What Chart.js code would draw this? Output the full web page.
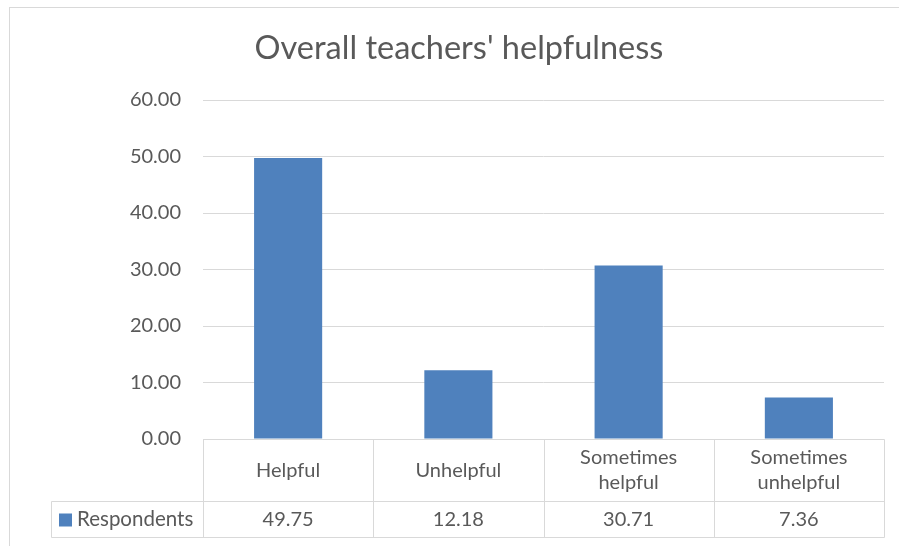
<!DOCTYPE html>
<html><head><meta charset="utf-8">
<script src="https://cdn.jsdelivr.net/npm/chart.js@4.4.0/dist/chart.umd.min.js"></script>
<style>html,body{margin:0;padding:0;background:#fff;overflow:hidden}#wrap{width:899px;height:546px}</style>
</head><body><div id="wrap"><canvas id="c" width="899" height="546"></canvas></div>
<script>
const chartTitle = "Overall teachers' helpfulness";
const categories = ["Helpful", "Unhelpful", "Sometimes helpful", "Sometimes unhelpful"];
const categoryLines = [["Helpful"], ["Unhelpful"], ["Sometimes", "helpful"], ["Sometimes", "unhelpful"]];
const seriesName = "Respondents";
const values = [49.75, 12.18, 30.71, 7.36];
const valueLabels = ["49.75", "12.18", "30.71", "7.36"];
const yMin = 0, yMax = 60, yStep = 10;

const FONT = "Lato, 'Open Sans', sans-serif";
const TXT = "#595959";
const LINE = "#d9d9d9";
const BAR = "#4f81bd";

const decor = {
  id: 'decor',
  beforeDraw(chart) {
    const ctx = chart.ctx;
    ctx.save();
    ctx.fillStyle = '#fff';
    ctx.fillRect(0, 0, chart.width, chart.height);
    ctx.strokeStyle = LINE;
    ctx.lineWidth = 1;
    ctx.strokeRect(9.5, 7.5, 1000, 1000);
    ctx.fillStyle = TXT;
    ctx.font = "32.5px " + FONT;
    ctx.textAlign = 'center';
    ctx.textBaseline = 'middle';
    ctx.fillText(chartTitle, 459, 49);
    ctx.restore();
  },
  afterDraw(chart) {
    const ctx = chart.ctx, ca = chart.chartArea, xs = chart.scales.x;
    const n = categories.length;
    const cw = (ca.right - ca.left) / n;
    const top = Math.round(ca.bottom) + 0.5;
    const mid = top + 62, bot = mid + 36;
    const legLeft = 51.5;
    ctx.save();
    ctx.strokeStyle = LINE;
    ctx.lineWidth = 1;
    ctx.beginPath();
    ctx.moveTo(Math.round(ca.left) + 0.5, top); ctx.lineTo(Math.round(ca.right) + 0.5, top);
    ctx.moveTo(legLeft, mid); ctx.lineTo(Math.round(ca.right) + 0.5, mid);
    ctx.moveTo(legLeft, bot); ctx.lineTo(Math.round(ca.right) + 0.5, bot);
    ctx.moveTo(legLeft, mid); ctx.lineTo(legLeft, bot);
    for (let i = 0; i <= n; i++) {
      const x = i < n ? xs.getPixelForValue(i) - cw / 2 : xs.getPixelForValue(n - 1) + cw / 2;
      const xr = Math.round(x) + 0.5;
      ctx.moveTo(xr, top); ctx.lineTo(xr, bot);
    }
    ctx.stroke();
    ctx.fillStyle = TXT;
    ctx.font = "20px " + FONT;
    ctx.textAlign = 'center';
    ctx.textBaseline = 'middle';
    for (let i = 0; i < n; i++) {
      const cx = xs.getPixelForValue(i);
      const lines = categoryLines[i];
      const lh = 25;
      const y0 = top + 31 - (lines.length - 1) * lh / 2;
      lines.forEach((l, k) => ctx.fillText(l, cx, y0 + k * lh));
      ctx.fillText(valueLabels[i], cx, mid + 18);
    }
    ctx.fillStyle = BAR;
    ctx.fillRect(59, mid + 12, 13, 13);
    ctx.fillStyle = TXT;
    ctx.textAlign = 'left';
    ctx.font = "20.5px " + FONT;
    ctx.fillText(seriesName, 77, mid + 18);
    ctx.restore();
  }
};

new Chart(document.getElementById('c'), {
  type: 'bar',
  data: {
    labels: categories,
    datasets: [{ label: seriesName, data: values, backgroundColor: BAR, borderWidth: 0,
      categoryPercentage: 1.0, barPercentage: 0.4 }]
  },
  options: {
    responsive: false,
    animation: false,
    devicePixelRatio: 1,
    layout: { padding: { left: 0, right: 15, top: 100, bottom: 107 } },
    plugins: { legend: { display: false }, tooltip: { enabled: false }, title: { display: false } },
    scales: {
      x: { display: false },
      y: {
        min: yMin, max: yMax,
        border: { display: false },
        grid: { color: LINE, drawTicks: false, lineWidth: 1 },
        ticks: { stepSize: yStep, padding: 22, color: TXT, font: { family: FONT, size: 20 },
          callback: v => Number(v).toFixed(2) },
        afterFit(s) { s.width = 203; }
      }
    }
  },
  plugins: [decor]
});
</script></body></html>
